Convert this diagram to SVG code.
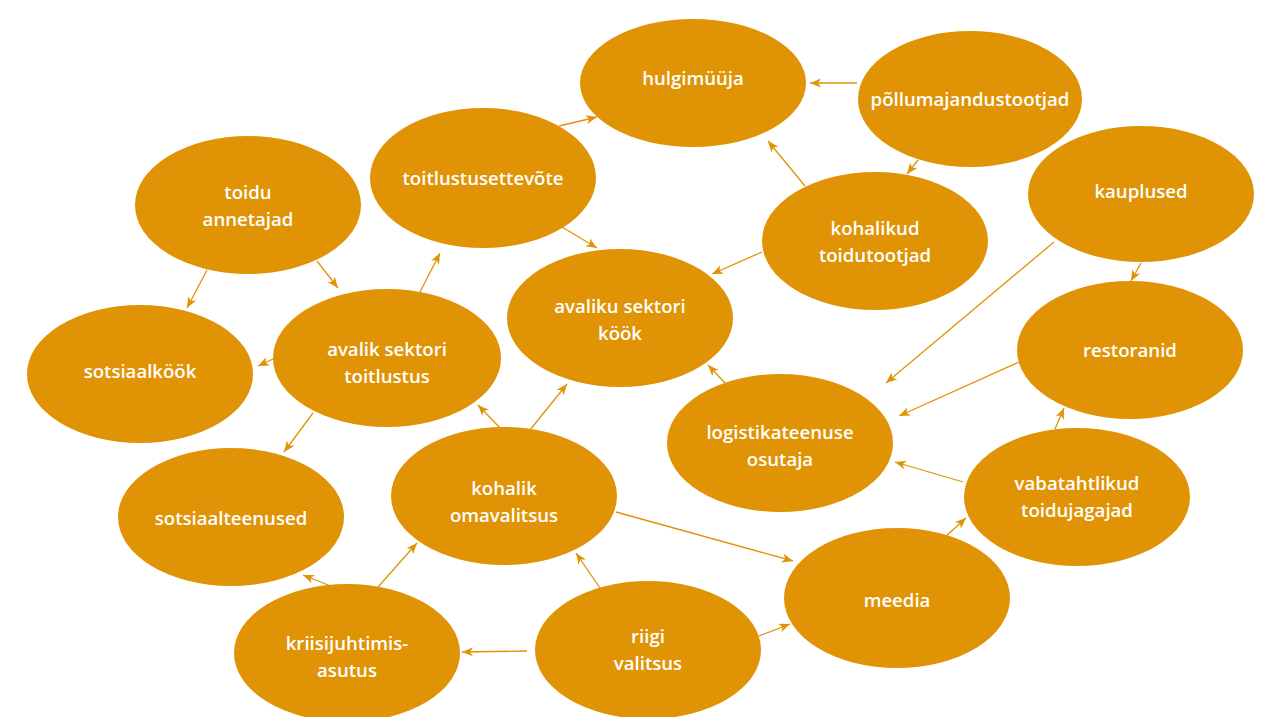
<svg xmlns="http://www.w3.org/2000/svg" width="1264" height="717" viewBox="0 0 1264 717">
<style>
.n ellipse{fill:#E09305}
.n text{fill:#fff;font-family:"Open Sans","Liberation Sans",sans-serif;font-size:18.6px;font-weight:600;text-anchor:middle;dominant-baseline:central}
.c line{stroke:#E09305;stroke-width:1.3;marker-end:url(#ah)}
</style>
<defs>
<marker id="ah" markerUnits="userSpaceOnUse" markerWidth="12" markerHeight="10" refX="11" refY="4.5" orient="auto">
<path d="M0,0 L11,4.5 L0,9 L3,4.5 Z" fill="#E09305"/>
</marker>
</defs>
<rect width="1264" height="717" fill="#fff"/>
<g class="c">
<line x1="559" y1="126" x2="597" y2="117"/>
<line x1="857" y1="83" x2="810" y2="83"/>
<line x1="805" y1="186" x2="768" y2="141"/>
<line x1="918" y1="160" x2="907" y2="174"/>
<line x1="562" y1="227" x2="597" y2="248"/>
<line x1="762" y1="252" x2="712" y2="274"/>
<line x1="1054" y1="242" x2="886" y2="383"/>
<line x1="1141" y1="263" x2="1131" y2="281"/>
<line x1="1019" y1="362" x2="899" y2="416"/>
<line x1="1055" y1="429" x2="1064" y2="408"/>
<line x1="726" y1="384" x2="708" y2="365"/>
<line x1="963" y1="482" x2="895" y2="462"/>
<line x1="945" y1="537" x2="966" y2="518"/>
<line x1="616" y1="512" x2="793" y2="561"/>
<line x1="759" y1="636" x2="790" y2="624"/>
<line x1="600" y1="588" x2="576" y2="553"/>
<line x1="527" y1="651" x2="462" y2="652"/>
<line x1="378" y1="587" x2="417" y2="543"/>
<line x1="333" y1="587" x2="303" y2="575"/>
<line x1="500" y1="428" x2="478" y2="405"/>
<line x1="530" y1="430" x2="567" y2="384"/>
<line x1="420" y1="292" x2="440" y2="253"/>
<line x1="317" y1="261" x2="338" y2="288"/>
<line x1="207" y1="270" x2="187" y2="308"/>
<line x1="275" y1="358" x2="258" y2="366"/>
<line x1="313" y1="413" x2="284" y2="452"/>
</g>
<g id="hulgimuuja" class="n"><ellipse cx="693" cy="83" rx="113" ry="64"/><text x="693" y="77">hulgimüüja</text></g>
<g id="pollumajandustootjad" class="n"><ellipse cx="970" cy="99" rx="112" ry="68"/><text x="970" y="98">põllumajandustootjad</text></g>
<g id="toitlustusettevote" class="n"><ellipse cx="483" cy="178" rx="113" ry="70"/><text x="483" y="177">toitlustusettevõte</text></g>
<g id="toidu-annetajad" class="n"><ellipse cx="248" cy="205" rx="113" ry="69"/><text x="248" y="191">toidu</text><text x="248" y="218">annetajad</text></g>
<g id="kohalikud-toidutootjad" class="n"><ellipse cx="875" cy="241" rx="113" ry="69"/><text x="875" y="227">kohalikud</text><text x="875" y="254">toidutootjad</text></g>
<g id="kauplused" class="n"><ellipse cx="1141" cy="194" rx="113" ry="68"/><text x="1141" y="190">kauplused</text></g>
<g id="avaliku-sektori-kook" class="n"><ellipse cx="620" cy="318" rx="113" ry="69"/><text x="620" y="305">avaliku sektori</text><text x="620" y="332">köök</text></g>
<g id="sotsiaalkook" class="n"><ellipse cx="140" cy="374" rx="113" ry="69"/><text x="140" y="370">sotsiaalköök</text></g>
<g id="avalik-sektori-toitlustus" class="n"><ellipse cx="387" cy="358" rx="114" ry="69"/><text x="387" y="348">avalik sektori</text><text x="387" y="375">toitlustus</text></g>
<g id="restoranid" class="n"><ellipse cx="1130" cy="350" rx="113" ry="69"/><text x="1130" y="349">restoranid</text></g>
<g id="logistikateenuse-osutaja" class="n"><ellipse cx="780" cy="443" rx="113" ry="69"/><text x="780" y="431">logistikateenuse</text><text x="780" y="458">osutaja</text></g>
<g id="kohalik-omavalitsus" class="n"><ellipse cx="504" cy="496" rx="113" ry="69"/><text x="504" y="487">kohalik</text><text x="504" y="514">omavalitsus</text></g>
<g id="sotsiaalteenused" class="n"><ellipse cx="231" cy="517" rx="113" ry="69"/><text x="231" y="517">sotsiaalteenused</text></g>
<g id="vabatahtlikud-toidujagajad" class="n"><ellipse cx="1077" cy="497" rx="113" ry="69"/><text x="1077" y="482">vabatahtlikud</text><text x="1077" y="509">toidujagajad</text></g>
<g id="meedia" class="n"><ellipse cx="897" cy="598" rx="113" ry="70"/><text x="897" y="599">meedia</text></g>
<g id="kriisijuhtimisasutus" class="n"><ellipse cx="347" cy="653" rx="113" ry="69"/><text x="347" y="642">kriisijuhtimis-</text><text x="347" y="669">asutus</text></g>
<g id="riigi-valitsus" class="n"><ellipse cx="648" cy="650" rx="113" ry="69"/><text x="648" y="635">riigi</text><text x="648" y="662">valitsus</text></g>
</svg>
